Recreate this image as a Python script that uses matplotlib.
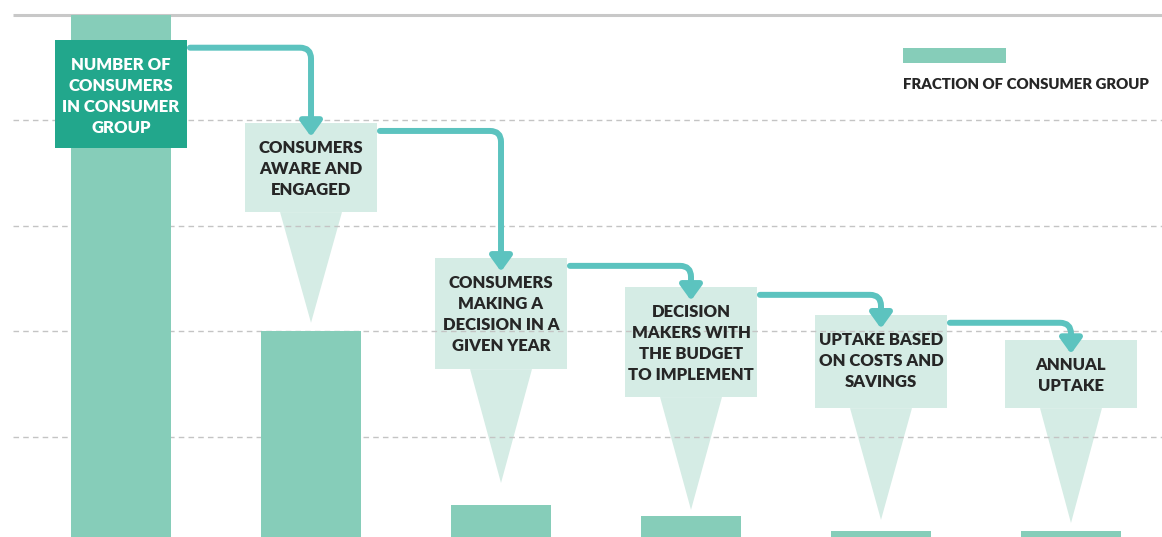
import numpy as np
import matplotlib.pyplot as plt
from matplotlib.patches import Rectangle, Polygon, FancyArrowPatch

plt.rcParams['font.family'] = ['Lato', 'DejaVu Sans']

stages = ['NUMBER OF\nCONSUMERS\nIN CONSUMER\nGROUP',
          'CONSUMERS\nAWARE AND\nENGAGED',
          'CONSUMERS\nMAKING A\nDECISION IN A\nGIVEN YEAR',
          'DECISION\nMAKERS WITH\nTHE BUDGET\nTO IMPLEMENT',
          'UPTAKE BASED\nON COSTS AND\nSAVINGS',
          'ANNUAL\nUPTAKE']
fraction = [100, 40, 7, 5, 2, 2]  # % of consumer group

# label boxes: top / bottom edge and where the pointer ends (same units as the bars)
box_top = [95.3, 79.5, 53.9, 48.4, 43.1, 38.3]
box_bottom = [74.8, 62.6, 32.8, 27.5, 25.4, 25.4]
tip_y = [None, 41.6, 11.2, 6.1, 4.2, 3.6]

bar_col = '#86cdb9'
box_col = '#d5ece5'
dark_col = '#22a78c'
arrow_col = '#5cc3bf'
grid_col = '#c4c4c4'

fig = plt.figure(figsize=(11.62, 5.37), dpi=100)
ax = fig.add_axes([0, 0, 1, 1])
ax.set_xlim(-0.637, 5.479)
ax.set_ylim(0.95, 102.85)
ax.axis('off')

x = np.arange(len(fraction))
px = 1 / 190.0    # one pixel in x units
py = 100 / 527.0  # one pixel in y units

# grid
ax.hlines([20, 40, 60, 80], -0.57, 5.479, colors=grid_col, lw=1,
          linestyles=(0, (4, 3)), zorder=2)
ax.hlines(100, -0.57, 5.479, colors='#c8c8c8', lw=2.2, zorder=2)

ax.bar(x, fraction, width=0.53, color=bar_col, zorder=3)

bw = 0.347
tw = 0.163
for i, label in enumerate(stages):
    if i == 0:
        ax.add_patch(Rectangle((x[i] - bw, box_bottom[i]), 2 * bw,
                               box_top[i] - box_bottom[i], color=dark_col,
                               lw=0, zorder=4))
        tc = 'white'
    else:
        ax.add_patch(Rectangle((x[i] - bw, box_bottom[i]), 2 * bw,
                               box_top[i] - box_bottom[i], color=box_col,
                               lw=0, zorder=1))
        ax.add_patch(Polygon([(x[i] - tw, box_bottom[i]), (x[i] + tw, box_bottom[i]),
                              (x[i], tip_y[i])], closed=True, color=box_col,
                             lw=0, zorder=1))
        tc = '#262626'
    ax.text(x[i], box_top[i] - 17 * py, label, ha='center', va='top',
            fontsize=12, fontweight='heavy', color=tc, linespacing=1.38,
            zorder=5)

# flow arrows between the boxes
for i in range(len(stages) - 1):
    start = (x[i] + bw + 3 * px, box_top[i] - 1.5)
    end = (x[i + 1], box_top[i + 1] - 2.6)
    arr = FancyArrowPatch(start, end,
                          connectionstyle='angle,angleA=0,angleB=90,rad=11',
                          arrowstyle='-|>,head_length=0.9,head_width=0.65',
                          mutation_scale=10, lw=4.3, color=arrow_col,
                          shrinkA=0, shrinkB=0, zorder=6)
    ax.add_patch(arr)

# legend
ax.add_patch(Rectangle((-0.637 + 903 * px, (542 - 63) * py), 103 * px, 15 * py,
                       color=bar_col, lw=0))
ax.text(-0.637 + 903 * px, (542 - 84) * py, 'FRACTION OF CONSUMER GROUP',
        ha='left', va='center', fontsize=10.8, fontweight='heavy', color='#262626')

fig.savefig('out.png', dpi=100)
